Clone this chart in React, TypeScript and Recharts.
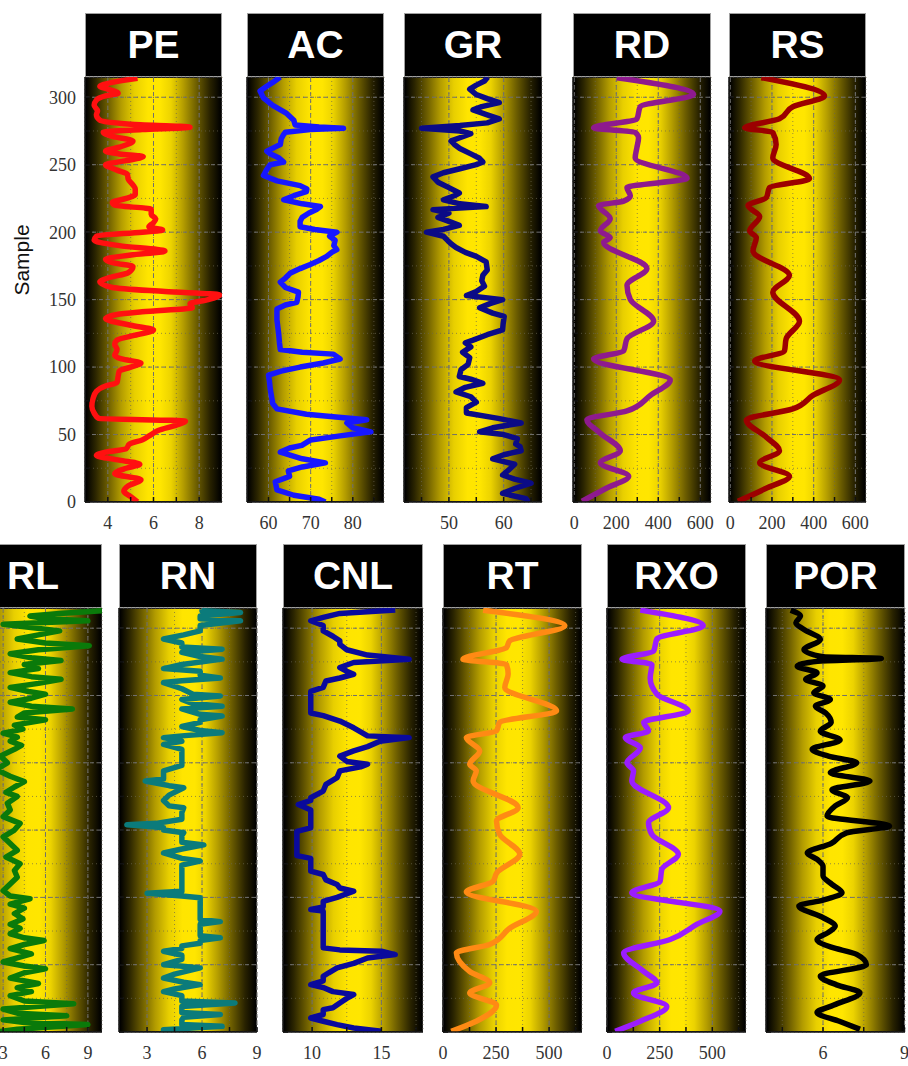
import React from 'react';
import { LineChart, Line, XAxis, YAxis, CartesianGrid, ReferenceLine } from 'recharts';

// depth axis (samples), shared by every track
const DEPTH_TICKS = [0, 25, 50, 75, 100, 125, 150, 175, 200, 225, 250, 275, 300];
const DEPTH_MAJOR = [50, 100, 150, 200, 250, 300];
const DEPTH_MAX = 315;

// ---- top row ----
const PE_DEPTH = [0, 4, 8, 12, 16.5, 21, 25, 28, 31, 34.5, 37, 39.5, 43, 46, 50, 53, 57, 60, 62, 66, 71, 76.5, 82, 86, 88.5, 93, 97, 100, 103, 106, 108.5, 113, 117, 120, 124, 127.5, 131, 136, 139, 141, 144, 147, 150, 153.5, 156, 159, 163, 166, 170, 174.5, 177, 180, 183, 186, 190, 194, 197, 200, 201.5, 204, 207, 210, 213, 217, 220, 222, 225, 228, 232, 235, 239, 243, 246, 250, 253, 256, 258, 260, 263, 267.5, 271, 274, 276, 277.8, 280, 283, 287, 290, 294, 298, 301, 303, 306, 308, 311, 314];
const PE_VALUE = [5.3, 5.0, 4.7, 4.9, 5.45, 4.3, 4.8, 5.4, 4.5, 3.5, 3.9, 4.8, 4.95, 5.5, 5.9, 6.2, 7.0, 7.4, 3.6, 3.4, 3.3, 3.35, 3.5, 3.9, 4.4, 4.45, 4.5, 5.0, 5.45, 4.6, 4.3, 4.4, 4.3, 4.4, 5.3, 6.0, 5.0, 3.9, 4.4, 5.5, 7.7, 7.6, 8.4, 8.9, 6.5, 4.2, 3.65, 4.0, 4.9, 5.1, 4.3, 3.9, 5.0, 6.5, 4.5, 3.4, 3.5, 5.5, 6.4, 5.8, 6.0, 6.1, 5.9, 5.9, 4.3, 4.2, 4.8, 5.2, 5.2, 5.1, 4.9, 4.85, 4.4, 3.9, 4.8, 5.55, 4.5, 3.9, 4.5, 5.1, 4.2, 3.8, 5.5, 7.6, 5.0, 3.65, 3.5, 3.55, 3.4, 3.5, 3.9, 4.45, 4.0, 3.65, 4.2, 5.3];

const AC_DEPTH = [0, 2, 5, 9, 15, 19, 23, 26, 29, 32, 37, 40, 42, 46, 49, 52, 55, 58.6, 61, 63, 65, 69, 73, 76.5, 84, 90, 94, 97, 100, 103, 106, 109.6, 111, 113, 118, 125, 130, 135, 143, 146, 148, 152, 155.5, 159, 163, 166, 169.5, 173, 176, 179, 182, 185, 187, 190, 194, 197, 200, 202, 204, 208, 211, 214, 217, 219, 221, 224, 227, 230, 232, 234.5, 238, 242, 246, 250, 252, 255, 258, 260, 263, 265, 269, 272, 274, 276, 277, 278, 279.5, 283, 288, 294, 299.5, 304.6, 308, 311, 315];
const AC_VALUE = [73.5, 72, 66, 62, 61.6, 65, 64.7, 68, 73.5, 68, 62.8, 65, 67.9, 70, 77, 84.3, 80, 78.6, 83.3, 76, 69, 62, 61, 60.8, 60.4, 60.2, 60, 63, 67.5, 73, 77, 75.4, 68, 62.8, 62.6, 62.4, 62.2, 62, 62, 64, 66.7, 67, 67.1, 64, 62.8, 64, 65.1, 67.5, 69.9, 72, 73.8, 75, 76.2, 75.5, 75.8, 74.5, 76.2, 71, 67.5, 67.5, 68, 69.5, 71.5, 72.3, 68, 63.6, 66, 69, 69.1, 67.5, 62, 58.8, 59.5, 60.4, 63.6, 62.5, 60.5, 59.6, 61.5, 62.8, 63, 63.5, 64, 69.9, 77.8, 72, 66.3, 66, 64.3, 61, 58.8, 58, 59.5, 61, 62.8];

const GR_DEPTH = [0, 2.5, 6.4, 10, 14, 17, 20, 24, 28, 32, 35, 38, 41, 43, 47, 50, 52, 55, 58.6, 62, 66, 70, 74, 78, 81.6, 85, 88, 91, 93, 98, 102, 107, 111, 115, 118, 120, 124, 127.5, 132, 137.6, 140, 144, 147, 150, 153, 156, 160, 164, 168, 172, 178, 182, 185, 188.6, 191, 193.7, 197, 200, 202, 205, 208, 211, 214, 216.7, 219, 221, 224, 227, 229, 233, 237, 241, 244, 247, 250, 252, 255, 258, 262, 265, 267.6, 270, 273, 275, 277, 279, 281, 284, 287, 290.6, 293, 296, 299, 302, 306, 309, 312, 315];
const GR_VALUE = [64.5, 64.1, 59.8, 62, 65, 62, 59.8, 61, 62, 58, 60, 63.2, 63, 62.2, 62.5, 60, 55.6, 58, 63.2, 59, 53.2, 53.2, 55, 54, 51.3, 53, 56.2, 54, 51.9, 52.2, 53.5, 53.8, 52.5, 54, 53, 54.4, 57, 59.8, 59.9, 60.1, 58, 55.6, 57.5, 59.8, 53.2, 55, 56.5, 56, 56.2, 57, 56.8, 55, 53, 51.3, 50.5, 49.8, 49, 45.9, 49, 51.9, 50, 48, 50, 47.1, 56.8, 52, 49, 51, 51.9, 50, 48, 47.1, 49, 52, 55, 56.2, 55.5, 54, 52, 51, 50.4, 52, 54, 52, 45, 52, 57, 59.2, 57, 54.4, 56, 59.2, 57, 55, 53.8, 55, 56.5, 57.1];

const RD_DEPTH = [0.5, 10, 19, 29, 38, 51, 61, 67.5, 79, 90.5, 106, 112, 121, 134, 150, 160.6, 173, 192.5, 196, 201, 210, 219.7, 223, 227, 233, 240, 255, 262.5, 270, 274, 277.3, 284, 293, 302, 314.5];
const RD_VALUE = [37, 150, 259, 124, 219, 124, 60, 251, 362, 457, 92, 235, 251, 378, 267, 251, 346, 140, 171, 124, 171, 116, 235, 267, 251, 537, 290, 298, 306, 290, 92, 298, 314, 568, 203];

const RS_DEPTH = [0.5, 10, 19, 29, 38, 48, 60.7, 69, 79, 90.5, 104.5, 112, 121, 134, 155.5, 168, 186, 196, 201, 211.6, 219.7, 225.6, 233, 239.6, 255, 265, 274, 277.3, 284, 293, 301, 314.5];
const RS_VALUE = [37, 170, 284, 141, 236, 173, 77, 300, 396, 524, 117, 260, 268, 332, 204, 284, 109, 125, 93, 141, 85, 173, 188, 380, 204, 220, 204, 69, 236, 300, 452, 149];

// ---- bottom row ----
const RL_DEPTH = [0, 2, 5.5, 7, 9, 12, 14, 17, 21, 23, 27, 30, 33, 36, 40, 44, 47, 49, 52, 55, 58, 62, 65, 68, 70, 73, 77, 80, 84, 88, 92, 95, 99, 101, 105, 110, 115, 120, 125, 130, 135, 140, 145, 150, 155, 160, 165, 170, 175, 178, 182, 186, 190, 195, 200, 205, 210, 213, 216, 219, 222, 225, 228, 232, 234, 237, 240, 242, 245, 248, 251, 253, 256, 259, 262, 264, 267, 270, 273, 276, 278, 281, 284, 287, 289, 292, 295, 298, 301, 303, 305.5, 307, 309, 311, 313];
const RL_VALUE = [2.5, 4.0, 9.0, 4.5, 3.0, 7.5, 4.0, 3.0, 8.0, 4.5, 3.5, 5.0, 4.0, 5.5, 3.5, 4.5, 6.0, 4.5, 3.0, 4.0, 5.0, 3.5, 4.5, 5.9, 4.5, 3.5, 4.2, 3.5, 4.4, 3.8, 4.5, 3.5, 4.9, 3.5, 3.0, 3.5, 4.0, 3.8, 4.2, 3.2, 4.0, 3.5, 3.0, 3.8, 4.2, 3.0, 3.5, 3.3, 4.0, 3.2, 3.8, 4.5, 3.5, 2.5, 3.3, 2.8, 3.8, 4.3, 3.5, 4.0, 3.0, 4.4, 3.8, 6.0, 4.0, 4.5, 7.9, 5.0, 3.5, 5.0, 6.0, 4.8, 3.5, 5.5, 7.1, 5.0, 3.5, 5.5, 4.5, 7.1, 5.0, 3.5, 5.5, 9.1, 6.0, 4.0, 5.5, 7.0, 4.5, 3.0, 9.0, 6.0, 4.9, 7.0, 10.0];

const RN_DEPTH = [0, 1.7, 3, 4.2, 5.5, 9, 11, 13, 14.5, 19, 21.6, 23, 27, 30, 32, 35.2, 37, 40, 43, 47.6, 49, 50, 54, 57, 60, 62, 64, 66, 68, 70, 71.5, 78, 80, 82, 83.5, 92, 99.7, 101, 103, 104.6, 110, 118, 124, 127, 129, 133, 136, 139, 141, 146, 148, 150, 151.7, 153, 154, 155, 158, 163, 166.6, 168, 172, 176, 181.5, 183, 186.5, 188, 194, 198, 205, 210, 213.7, 216, 218.7, 220, 222.4, 224, 227, 230, 232, 234.8, 236, 240, 242, 244, 247, 249.7, 251, 255, 259.6, 261, 263, 265, 268, 270, 273, 277, 279, 282, 284.4, 286, 289, 292, 295, 298, 302, 305.5, 307, 309, 311.7, 313, 314];
const RN_VALUE = [3.9, 3.9, 5.5, 7.1, 4.9, 4.9, 5.0, 7.0, 4.9, 4.9, 7.8, 4.9, 4.9, 3.9, 4.5, 5.9, 5.0, 3.9, 4.5, 5.9, 4.8, 3.9, 4.9, 4.9, 3.9, 4.9, 4.9, 5.9, 5.9, 7.0, 5.9, 5.9, 5.9, 7.0, 5.9, 5.9, 5.9, 4.9, 3.0, 4.9, 4.9, 4.9, 4.9, 5.9, 4.9, 3.9, 4.9, 6.1, 4.9, 4.9, 5.0, 3.9, 3.9, 2.8, 1.9, 3.5, 4.9, 4.9, 5.0, 4.2, 3.9, 4.2, 5.0, 4.2, 2.9, 3.9, 3.9, 4.9, 4.9, 4.9, 3.9, 4.9, 3.9, 4.9, 7.1, 5.9, 4.9, 5.9, 5.9, 7.1, 5.9, 4.9, 7.1, 5.5, 4.9, 7.0, 5.5, 4.9, 3.9, 4.9, 7.0, 5.9, 5.9, 3.9, 4.9, 7.1, 5.9, 4.9, 7.1, 4.9, 4.9, 3.9, 5.0, 5.9, 5.9, 8.1, 5.9, 5.9, 8.1, 6.0, 6.0];

const CNL_DEPTH = [0.5, 3, 5.5, 8, 10.4, 13, 16.6, 18, 21.6, 25, 27.8, 30, 33, 35.2, 38, 41.4, 44, 47.6, 51, 55, 57.5, 60, 61, 62.5, 75, 89.8, 91, 93, 97, 100, 104.6, 107, 109.6, 113, 117, 119.5, 129, 131, 149, 151.7, 165, 169, 172, 174, 179, 184, 189, 194, 197, 198.9, 201, 205, 208.8, 212, 216, 218.7, 220, 223, 226, 231, 235, 237, 253, 256, 260.8, 263, 265.8, 268, 270.8, 274.5, 277, 280, 284, 288, 290.6, 294, 298, 302, 305.5, 308, 311, 313.5];
const CNL_VALUE = [15, 13, 11.8, 10.8, 9.9, 10.8, 10.8, 11.5, 12, 12.5, 13, 11.5, 10.8, 9.9, 10.8, 10.8, 11.2, 11.8, 13, 14, 16, 15, 12, 10.8, 10.8, 10.8, 9.9, 10.8, 10.8, 11.8, 13, 12, 11.8, 11, 10.8, 9.9, 9.9, 8.9, 8.9, 9.9, 9.9, 9.0, 9.9, 9.9, 10.8, 11, 11.8, 12, 13.5, 14, 12.5, 12, 13, 14, 14.9, 17, 14, 13.5, 13, 12, 10.8, 9.9, 9.9, 10.8, 11, 12, 13, 12.5, 12, 13, 17, 14, 12.5, 12, 12, 11.5, 10.8, 10.8, 9.9, 10.8, 12, 16];

const RT_DEPTH = [0.5, 8, 20, 29, 36.5, 45, 58.8, 65, 77, 89.8, 104, 112, 118, 132, 146.8, 156.7, 166.6, 186.5, 194, 198.9, 208.8, 218.7, 223.7, 230, 238.5, 256, 266, 273, 277, 285.6, 290.6, 301.8, 313.4];
const RT_VALUE = [39, 157, 252, 126, 220, 126, 63, 220, 314, 440, 110, 236, 252, 362, 267, 252, 354, 142, 157, 126, 173, 110, 252, 267, 535, 291, 307, 299, 94, 299, 314, 574, 189];

const RXO_DEPTH = [0.5, 8, 19, 29, 36.5, 45, 58.8, 68.7, 80, 89.8, 103.4, 112, 120.8, 132, 146.8, 155.5, 166.6, 186.5, 194, 200, 211, 218.7, 223.7, 230, 238.5, 251, 263, 273, 277, 283, 292, 301.8, 313.4];
const RXO_VALUE = [39, 158, 284, 126, 237, 174, 79, 300, 426, 536, 118, 252, 260, 339, 213, 197, 292, 118, 126, 95, 158, 87, 197, 174, 386, 237, 205, 213, 71, 221, 237, 457, 158];

const POR_DEPTH = [2, 8, 14.4, 20, 29.2, 35, 41.6, 50, 57.7, 63, 68.8, 74, 78.7, 85, 93.6, 98, 103.5, 109.7, 116, 123, 128, 133, 140, 148, 153, 160.4, 168, 174, 180, 186.4, 192.6, 200, 205, 210, 217, 223.5, 230, 237, 242, 247, 252, 257, 262, 266.8, 271.8, 275.5, 277.5, 278.8, 284, 291.6, 299, 304, 309, 313.4];
const POR_VALUE = [7.36, 6.6, 5.78, 6.4, 7.36, 6.5, 5.9, 7.6, 7.24, 6.3, 5.78, 6.2, 6.45, 6.0, 5.11, 6.0, 6.7, 6.33, 6.0, 6.0, 5.8, 5.42, 6.3, 6.87, 8.45, 6.15, 6.45, 6.9, 6.33, 7.73, 6.27, 7.24, 6.2, 5.6, 6.63, 5.9, 6.3, 6.1, 5.72, 6.27, 5.66, 6.0, 5.36, 5.78, 5.05, 5.8, 8.15, 6.0, 5.3, 5.9, 5.3, 5.0, 5.17, 4.81];

const ROWS = [
  { headerTop: 13, plotTop: 77, plotH: 425 },
  { headerTop: 544, plotTop: 608, plotH: 424 },
];

const TRACKS = [
  { title: 'PE', row: 0, x: 85, w: 137, color: '#ff1010', smooth: true, domain: [3, 9], ticks: [4, 5, 6, 7, 8], labels: [4, 6, 8], depth: PE_DEPTH, value: PE_VALUE },
  { title: 'AC', row: 0, x: 247, w: 137, color: '#1717ff', smooth: false, domain: [54.9, 87.4], ticks: [60, 65, 70, 75, 80, 85], labels: [60, 70, 80], depth: AC_DEPTH, value: AC_VALUE },
  { title: 'GR', row: 0, x: 404, w: 138, color: '#0b0b86', smooth: false, domain: [41.8, 67], ticks: [45, 50, 55, 60, 65], labels: [50, 60], depth: GR_DEPTH, value: GR_VALUE },
  { title: 'RD', row: 0, x: 573, w: 138, color: '#8e1a8e', smooth: true, domain: [-6, 651], ticks: [0, 100, 200, 300, 400, 500, 600], labels: [0, 200, 400, 600], depth: RD_DEPTH, value: RD_VALUE },
  { title: 'RS', row: 0, x: 729, w: 137, color: '#9c0000', smooth: true, domain: [-6, 651], ticks: [0, 100, 200, 300, 400, 500, 600], labels: [0, 200, 400, 600], depth: RS_DEPTH, value: RS_VALUE },
  { title: 'RL', row: 1, x: -36, w: 138, color: '#0a7a0a', smooth: false, domain: [0.23, 10], ticks: [1.5, 3, 4.5, 6, 7.5, 9], labels: [3, 6, 9], depth: RL_DEPTH, value: RL_VALUE },
  { title: 'RN', row: 1, x: 119, w: 138, color: '#0b7b7b', smooth: false, domain: [1.47, 9], ticks: [3, 4.5, 6, 7.5, 9], labels: [3, 6, 9], depth: RN_DEPTH, value: RN_VALUE },
  { title: 'CNL', row: 1, x: 283, w: 140, color: '#0a0a9c', smooth: false, domain: [7.9, 18], ticks: [10, 12.5, 15, 17.5], labels: [10, 15], depth: CNL_DEPTH, value: CNL_VALUE },
  { title: 'RT', row: 1, x: 443, w: 139, color: '#ff8a14', smooth: true, domain: [0, 655], ticks: [0, 125, 250, 375, 500, 625], labels: [0, 250, 500], depth: RT_DEPTH, value: RT_VALUE },
  { title: 'RXO', row: 1, x: 607, w: 139, color: '#9b1cff', smooth: true, domain: [0, 660], ticks: [0, 125, 250, 375, 500, 625], labels: [0, 250, 500], depth: RXO_DEPTH, value: RXO_VALUE },
  { title: 'POR', row: 1, x: 766, w: 139, color: '#000000', smooth: true, domain: [3.9, 9.02], ticks: [4.5, 6, 7.5, 9], labels: [6, 9], depth: POR_DEPTH, value: POR_VALUE },
];

const GRAD =
  'linear-gradient(to right, #000 0%, #2b2500 7%, #6b5c00 16%, #b39c00 26%, #e8cf00 36%, #ffe500 46%, #ffe600 55%, #ecd300 63%, #b49d00 72%, #6c5d00 82%, #282200 92%, #000 100%)';

const AXIS_W = 50;
const AXIS_H = 40;
const PAD = 6;
const TICK_FONT = { fill: '#333', fontSize: 18, fontFamily: '"Liberation Serif", "Times New Roman", serif' };

function Track({ t }: { t: typeof TRACKS[number] }) {
  const row = ROWS[t.row];
  const data = t.depth.map((d, i) => ({ d, v: t.value[i] }));
  const showDepthLabels = t.title === 'PE';
  return (
    <>
      <div
        style={{
          position: 'absolute',
          left: t.x,
          top: row.headerTop,
          width: t.w,
          height: row.plotTop - row.headerTop,
          boxSizing: 'border-box',
          background: '#000',
          border: '1px solid #a0a0a0',
          color: '#fff',
          font: 'bold 39px "Liberation Sans", Arial, sans-serif',
          display: 'flex',
          alignItems: 'center',
          justifyContent: 'center',
        }}
      >
        {t.title}
      </div>
      <div
        style={{
          position: 'absolute',
          left: t.x,
          top: row.plotTop,
          width: t.w,
          height: row.plotH,
          boxSizing: 'border-box',
          background: GRAD,
          border: '1px solid #222',
        }}
      />
      <div style={{ position: 'absolute', left: t.x - AXIS_W, top: row.plotTop - PAD }}>
        <LineChart
          layout="vertical"
          width={t.w + AXIS_W + PAD}
          height={row.plotH + PAD + AXIS_H}
          data={data}
          margin={{ top: PAD, right: PAD, bottom: 0, left: 0 }}
        >
          <CartesianGrid stroke="#6a6550" strokeOpacity={0.7} strokeDasharray="1 3" />
          {DEPTH_MAJOR.map((y) => (
            <ReferenceLine key={'y' + y} y={y} stroke="#707070" strokeDasharray="4 3" />
          ))}
          {t.labels.map((x) => (
            <ReferenceLine key={'x' + x} x={x} stroke="#707070" strokeDasharray="4 3" />
          ))}
          <XAxis
            type="number"
            domain={t.domain}
            ticks={t.ticks}
            interval={0}
            allowDataOverflow
            height={AXIS_H}
            tickSize={-5}
            tickMargin={19}
            tickFormatter={(v) => (t.labels.includes(v) ? String(v) : '')}
            axisLine={{ stroke: '#111', strokeWidth: 1.5 }}
            tickLine={{ stroke: '#111', strokeWidth: 1.5 }}
            tick={TICK_FONT}
          />
          <YAxis
            type="number"
            dataKey="d"
            domain={[0, DEPTH_MAX]}
            ticks={DEPTH_TICKS}
            interval={0}
            reversed
            allowDataOverflow
            width={AXIS_W}
            tickSize={-5}
            tickMargin={14}
            tickFormatter={(v) => (showDepthLabels && v % 50 === 0 ? String(v) : '')}
            axisLine={{ stroke: '#111', strokeWidth: 1.5 }}
            tickLine={{ stroke: '#111', strokeWidth: 1.5 }}
            tick={TICK_FONT}
          />
          <Line
            type={t.smooth ? 'monotone' : 'linear'}
            dataKey="v"
            stroke={t.color}
            strokeWidth={5.5}
            strokeLinejoin="round"
            dot={false}
            isAnimationActive={false}
          />
        </LineChart>
      </div>
    </>
  );
}

export default function App() {
  return (
    <div
      style={{
        position: 'absolute',
        left: 0,
        top: 0,
        width: 908,
        height: 1066,
        overflow: 'hidden',
        background: '#fff',
      }}
    >
      <div
        style={{
          position: 'absolute',
          left: 22,
          top: 260,
          transform: 'translate(-50%, -50%) rotate(-90deg)',
          font: '21px "Liberation Sans", Arial, sans-serif',
          color: '#111',
          whiteSpace: 'nowrap',
        }}
      >
        Sample
      </div>
      {TRACKS.map((t) => (
        <Track key={t.title} t={t} />
      ))}
    </div>
  );
}
